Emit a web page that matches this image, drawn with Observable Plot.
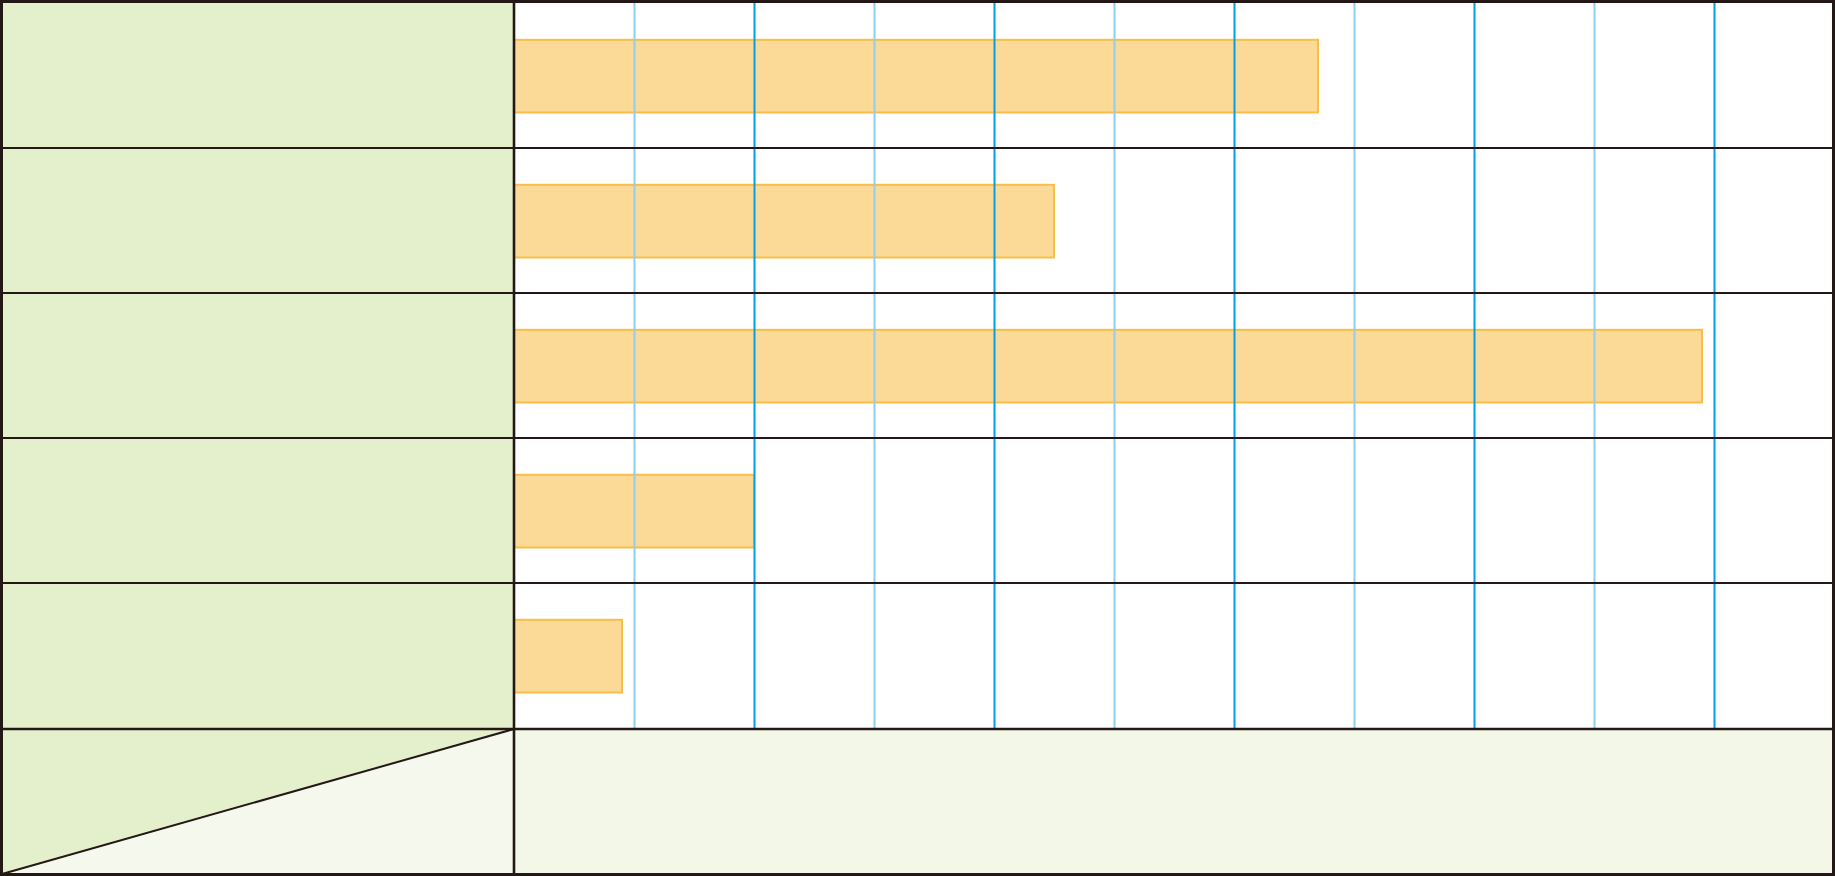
<!DOCTYPE html>
<html><head><meta charset="utf-8">
<script src="https://cdn.jsdelivr.net/npm/d3@7"></script>
<script src="https://cdn.jsdelivr.net/npm/@observablehq/plot@0.6"></script>
<style>html,body{margin:0;padding:0;background:#fff;overflow:hidden} svg{display:block}</style>
</head><body><div id="chart"></div>
<script>
// ---- data ----
const categories = ["row1", "row2", "row3", "row4", "row5"];
const values = [67, 45, 99, 20, 9];
const gridMinor = [10, 30, 50, 70, 90];
const gridMajor = [20, 40, 60, 80, 100];
const xDomain = [0, 110];

const data = categories.map((c, i) => ({category: c, value: values[i]}));

const W = 1835, H = 876;
const INK = "#231815";
const GREEN = "#e4f0cc", PALE = "#f3f7e8", PALER = "#f5f8ec";

function rowEdges(scales, dims) {
  const y = scales.y;
  const tops = categories.map(c => y(c));
  const bottom = dims.height - dims.marginBottom;
  return {tops, bottom};
}

// background layer: label column cells and footer row
function background(index, scales, values, dims) {
  const {tops, bottom} = rowEdges(scales, dims);
  const g = d3.create("svg:g");
  const L = dims.marginLeft;
  const edges = tops.concat([bottom]);
  for (let i = 0; i < tops.length; i++) {
    g.append("rect").attr("x", 0).attr("y", edges[i]).attr("width", L)
      .attr("height", edges[i + 1] - edges[i]).attr("fill", GREEN);
  }
  // footer row
  g.append("rect").attr("x", L).attr("y", bottom).attr("width", dims.width - L)
    .attr("height", dims.height - bottom).attr("fill", PALE);
  g.append("path").attr("d", `M0,${bottom}L${L},${bottom}L0,${dims.height}Z`).attr("fill", GREEN);
  g.append("path").attr("d", `M${L},${bottom}L${L},${dims.height}L0,${dims.height}Z`).attr("fill", PALER);
  return g.node();
}

// table lines on top
function tableLines(index, scales, values, dims) {
  const {tops, bottom} = rowEdges(scales, dims);
  const g = d3.create("svg:g").attr("stroke", INK).attr("fill", "none");
  const L = dims.marginLeft;
  for (let i = 1; i < tops.length; i++) {
    g.append("line").attr("x1", 0).attr("x2", dims.width).attr("y1", tops[i]).attr("y2", tops[i])
      .attr("stroke-width", 1.8);
  }
  g.append("line").attr("x1", 0).attr("x2", dims.width).attr("y1", bottom).attr("y2", bottom)
    .attr("stroke-width", 2.6);
  g.append("line").attr("x1", L).attr("x2", L).attr("y1", 0).attr("y2", dims.height)
    .attr("stroke-width", 2.6);
  g.append("line").attr("x1", L).attr("y1", bottom).attr("x2", 2).attr("y2", dims.height - 2)
    .attr("stroke-width", 2);
  g.append("rect").attr("x", 1.5).attr("y", 1.5).attr("width", dims.width - 3)
    .attr("height", dims.height - 3).attr("stroke-width", 3);
  return g.node();
}

const chart = Plot.plot({
  width: W,
  height: H,
  marginLeft: 514,
  marginRight: 1,
  marginTop: 1,
  marginBottom: 147,
  x: {domain: xDomain, axis: null},
  y: {domain: categories, axis: null, padding: 0},
  style: {background: "#fff"},
  marks: [
    background,
    Plot.barX(data, {
      x: "value", y: "category",
      fill: "#fbd996", stroke: "#f8be48", strokeWidth: 2,
      insetTop: 36.8, insetBottom: 35.5
    }),
    Plot.ruleX(gridMinor, {stroke: "#8ccff0", strokeWidth: 2}),
    Plot.ruleX(gridMajor, {stroke: "#00a0e9", strokeWidth: 2}),
    tableLines
  ]
});
document.getElementById("chart").appendChild(chart);
</script>
</body></html>
